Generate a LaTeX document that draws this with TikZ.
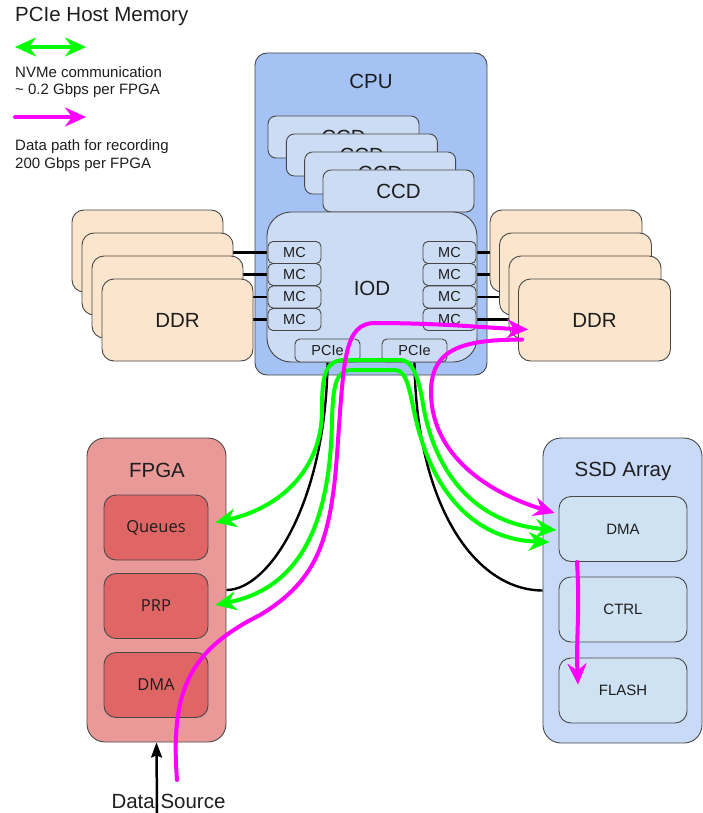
\documentclass[tikz,border=0pt]{standalone}
\usepackage{fontspec}
\setmainfont{Liberation Sans}
\newfontfamily\opensans{Open Sans}
\usetikzlibrary{arrows.meta}
\pgfdeclarelayer{back}
\pgfdeclarelayer{mid}
\pgfsetlayers{back,mid,main}

\definecolor{edge}{HTML}{474747}
\definecolor{ink}{HTML}{1E1E1E}
\definecolor{cpublue}{HTML}{A4C2F4}
\definecolor{chipblue}{HTML}{CCDCF4}
\definecolor{ddrtan}{HTML}{FCE5CD}
\definecolor{fpgared}{HTML}{EA9999}
\definecolor{fpgainner}{HTML}{E06666}
\definecolor{ssdblue}{HTML}{C9DAF8}
\definecolor{ssdinner}{HTML}{CFE2F3}
\definecolor{nvgreen}{HTML}{00FF00}
\definecolor{recmag}{HTML}{FF00FF}

\tikzset{
  box/.style={draw=edge, line width=0.9pt, inner sep=0pt, rounded corners=9pt, text=ink},
  bigtext/.style={font=\fontsize{20.5}{24}\selectfont, text=ink},
  smalltext/.style={font=\fontsize{14.5}{17}\selectfont, text=ink},
  legendtext/.style={font=\fontsize{15}{18}\selectfont, text=ink, anchor=base west, inner sep=0pt},
  chipbox/.style={box, fill=chipblue, rounded corners=8pt},
  mcbox/.style={box, fill=chipblue, rounded corners=5pt, minimum width=53pt, minimum height=22pt, smalltext},
  ddrbox/.style={box, fill=ddrtan, rounded corners=12pt, minimum height=82pt},
  fpgabox/.style={box, fill=fpgainner, rounded corners=12pt, minimum width=104pt, minimum height=65pt,
                  font=\opensans\fontsize{16.5}{19}\selectfont},
  ssdbox/.style={box, fill=ssdinner, rounded corners=12pt, minimum width=128pt, minimum height=65pt,
                 font=\fontsize{15}{18}\selectfont},
  tipgreen/.tip={Stealth[length=21pt,width=19pt,inset=7pt]},
  tipmag/.tip={Stealth[length=21pt,width=19pt,inset=7pt]},
  nvpath/.style={draw=nvgreen, line width=4pt, line cap=round, tipgreen-tipgreen},
  recpath/.style={draw=recmag, line width=4pt, line cap=round, -tipmag},
  bus/.style={draw=black, line width=2.8pt},
  link/.style={draw=black, line width=2.4pt},
  feed/.style={draw=black, line width=2.5pt, -{Stealth[length=15pt,width=11pt,inset=2pt]}}
}

\begin{document}
\begin{tikzpicture}[x=1pt, y=-1pt]
\useasboundingbox (0,0) rectangle (703,813);

% ---------- legend ----------
\node[anchor=base west, inner sep=0pt, bigtext] (title) at (15,22) {PCIe Host Memory};
\coordinate (nvA) at (15,47);
\coordinate (nvB) at (86,47);
\draw[nvpath] (nvA) -- (nvB);
\node[legendtext] (nvone) at (15,78) {NVMe communication};
\node[legendtext] (nvtwo) at (15,95) {\textasciitilde{} 0.2 Gbps per FPGA};
\coordinate (recA) at (15,117);
\coordinate (recB) at (86,117);
\draw[recpath] (recA) -- (recB);
\node[legendtext] (recone) at (15,151) {Data path for recording};
\node[legendtext] (rectwo) at (15,168) {200 Gbps per FPGA};

% ---------- CPU package ----------
\begin{pgfonlayer}{back}
  \node[box, fill=cpublue, rounded corners=12pt, minimum width=232pt, minimum height=322pt] (cpu) at (371,214) {};
\end{pgfonlayer}
\node[bigtext] (cpulabel) at (371,81) {CPU};

\foreach \i in {1,...,4} {
  \node[chipbox, bigtext, minimum width=151pt, minimum height=42pt]
    (ccd\i) at ({343.5+18.33*(\i-1)},{137+18*(\i-1)}) {CCD};
}

\node[chipbox, rounded corners=24pt, minimum width=210pt, minimum height=150pt] (iod) at (372,287) {};
\node[bigtext] (iodlabel) at (372,288) {IOD};

\foreach \i/\y in {1/252.5, 2/274.5, 3/297, 4/319.5} {
  \node[mcbox] (mcL\i) at (294.5,\y) {MC};
  \node[mcbox] (mcR\i) at (449.5,\y) {MC};
}

\node[mcbox, minimum width=65pt, minimum height=23pt] (pcieL) at (327.5,350.5) {PCIe};
\node[mcbox, minimum width=65pt, minimum height=23pt] (pcieR) at (414.5,350.5) {PCIe};

% ---------- memory stacks ----------
\foreach \i in {1,2,3} {
  \node[ddrbox, minimum width=151pt] (ddrL\i) at ({147.5+10*(\i-1)},{251+23*(\i-1)}) {};
}
\node[ddrbox, bigtext, minimum width=151pt] (ddrL4) at (177.5,320) {DDR};
\foreach \i in {1,2,3} {
  \node[ddrbox, minimum width=152pt] (ddrR\i) at ({566+9.5*(\i-1)},{251+23*(\i-1)}) {};
}
\node[ddrbox, bigtext, minimum width=152pt] (ddrR4) at (594.5,320) {DDR};

% ---------- FPGA ----------
\node[box, fill=fpgared, rounded corners=18pt, minimum width=139pt, minimum height=304pt] (fpga) at (156.5,590) {};
\node[bigtext] (fpgalabel) at (157,470) {FPGA};
\node[fpgabox] (queues) at (156,527.5) {Queues};
\node[fpgabox] (prp) at (156,606) {PRP};
\node[fpgabox] (fdma) at (156,685) {DMA};

% ---------- SSD array ----------
\node[box, fill=ssdblue, rounded corners=18pt, minimum width=159pt, minimum height=305pt] (ssd) at (622.5,590.5) {};
\node[bigtext] (ssdlabel) at (623,471) {SSD Array};
\node[ssdbox] (sdma) at (623,529) {DMA};
\node[ssdbox] (ctrl) at (623,609.5) {CTRL};
\node[ssdbox] (flash) at (623,690.5) {FLASH};

% ---------- wiring behind the boxes ----------
\begin{pgfonlayer}{mid}
  \foreach \i in {1,...,4} {
    \draw[bus] (mcL\i.west) -- (mcL\i.west -| ddrL\i.east);
    \draw[bus] (mcR\i.east) -- (mcR\i.east -| ddrR\i.west);
  }
  \draw[link] (pcieL.south) .. controls (326,500) and (270,590) .. (fpga.east);
  \draw[link] (pcieR.south) .. controls (416,500) and (472,590) .. (ssd.west);
\end{pgfonlayer}

% ---------- data source ----------
\coordinate (srcfoot) at (157,813);
\draw[feed] (srcfoot) -- (fpga.south);
\node[anchor=base, inner sep=0pt, bigtext] (srclabel) at (168.5,808) {Data Source};

% ---------- NVMe traffic ----------
\coordinate (qtip) at ([shift={(7pt,5pt)}]queues.east);
\coordinate (ptip) at ([shift={(7pt,1pt)}]prp.east);
\coordinate (sdtipA) at ([shift={(-2pt,-1pt)}]sdma.west);
\coordinate (sdtipB) at ([shift={(-9pt,-13pt)}]sdma.west);
\draw[nvpath] (qtip) .. controls (280,508) and (322,470) .. (322,410)
  .. controls (322,375) and (325,360) .. (345,360) -- (400,360)
  .. controls (415,360) and (420,385) .. (424,410)
  .. controls (440,490) and (490,525) .. (sdtipA);
\draw[nvpath] (ptip) .. controls (290,590) and (330,540) .. (332,420)
  .. controls (333,385) and (336,370) .. (352,370) -- (395,370)
  .. controls (408,370) and (410,395) .. (416,420)
  .. controls (435,500) and (480,540) .. (sdtipB);

% ---------- recording data path ----------
\coordinate (recsrc) at (177,780);
\coordinate (ddrtip) at ([shift={(10pt,-9.5pt)}]ddrR4.west);
\coordinate (ddrout) at ([shift={(4pt,-19.5pt)}]ddrR4.west);
\coordinate (sdtipC) at ([shift={(-4pt,16pt)}]sdma.west);
\coordinate (dmaout) at ([xshift=-46pt]sdma.south);
\coordinate (flashtip) at ([shift={(-45pt,-27pt)}]flash.north);
\draw[recpath] (recsrc) .. controls (170,690) and (190,650) .. (260,615)
  .. controls (318,580) and (332,540) .. (338,440)
  .. controls (344,360) and (344,323) .. (375,323)
  .. controls (440,323) and (490,328) .. (ddrtip);
\draw[recpath] (ddrout) .. controls (470,340) and (432,345) .. (431,390)
  .. controls (430,450) and (480,490) .. (sdtipC);
\draw[recpath] (dmaout) .. controls (580,610) and (576,640) .. (flashtip);

\end{tikzpicture}
\end{document}
